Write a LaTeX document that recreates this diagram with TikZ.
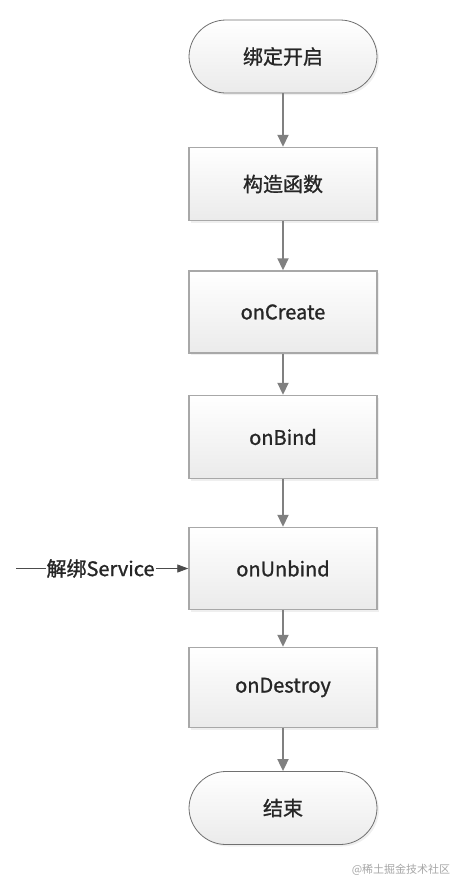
\documentclass[tikz,border=0pt]{standalone}
\usepackage{fontspec}
\setmainfont{Noto Sans CJK SC}
\newfontfamily\boxfont{Noto Sans CJK SC}[FakeBold=1.2]
\usetikzlibrary{arrows.meta,positioning,shadows}
\definecolor{boxline}{HTML}{A8A8A8}
\definecolor{termline}{HTML}{707070}
\definecolor{flowline}{HTML}{808080}
\definecolor{txt}{HTML}{262626}

\begin{document}
\begin{tikzpicture}[x=1pt,y=1pt,font=\boxfont\fontsize{20}{24}\selectfont,>={Triangle[width=11pt,length=12pt]},
  box/.style={rectangle,top color=white,bottom color=black!8,draw=boxline,line width=1.4pt,text=txt,minimum width=188pt,minimum height=82pt,drop shadow={shadow xshift=2pt,shadow yshift=-2pt,fill=black!12}},
  term/.style={box,rounded corners=37pt,draw=termline,line width=0.8pt,minimum height=73pt},
  flow/.style={->,draw=flowline,line width=1.8pt}]
\useasboundingbox (0,0) rectangle (460,-892);
% main chain
\node[term] (start) at (283,-56.5) {绑定开启};
\node[box,minimum height=73pt] (ctor) at (283,-184) {构造函数};
\node[box] (create) at (283,-312) {onCreate};
\node[box,minimum height=83pt] (bind) at (283,-437) {onBind};
\node[box] (unbind) at (283,-568.5) {onUnbind};
\node[box,minimum height=80pt] (destroy) at (283,-687.5) {onDestroy};
\node[term] (finish) at (283,-808) {结束};
\draw[flow] (start) -- (ctor);
\draw[flow] (ctor) -- (create);
\draw[flow] (create) -- (bind);
\draw[flow] (bind) -- (unbind);
\draw[flow] (unbind) -- (destroy);
\draw[flow] (destroy) -- (finish);
% side input
\coordinate[left=172pt of unbind.west] (src);
\draw[->,draw=black!70,line width=0.8pt,>={Triangle[width=8pt,length=11pt]}] (src) -- node[pos=0.49,fill=white,text=txt,inner sep=1pt] {解绑Service} (unbind.west);
\node[text=black!35,font=\fontsize{11}{13}\selectfont] (mark) at (401,-870) {@稀土掘金技术社区};
\end{tikzpicture}
\end{document}
